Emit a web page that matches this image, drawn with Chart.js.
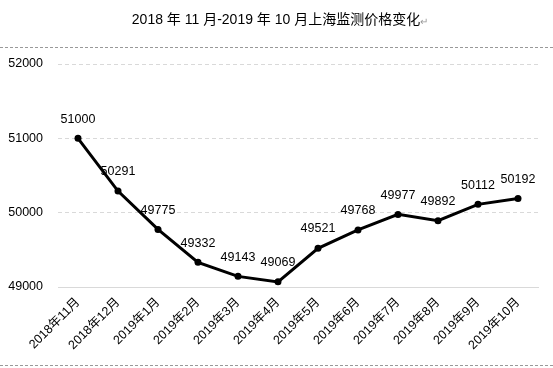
<!DOCTYPE html>
<html lang="zh">
<head>
<meta charset="UTF-8">
<title>上海监测价格变化</title>
<script src="https://cdn.jsdelivr.net/npm/chart.js"></script>
<style>
  html, body { margin: 0; padding: 0; background: #fff; }
  #wrap { width: 553px; height: 368px; }
</style>
</head>
<body>
<div id="wrap"><canvas id="price_chart" width="553" height="368"></canvas></div>
<script>
  // data
  const months = ['2018年11月', '2018年12月', '2019年1月', '2019年2月', '2019年3月', '2019年4月',
                  '2019年5月', '2019年6月', '2019年7月', '2019年8月', '2019年9月', '2019年10月'];
  const prices = [51000, 50291, 49775, 49332, 49143, 49069, 49521, 49768, 49977, 49892, 50112, 50192];
  const yTicks = [49000, 50000, 51000, 52000];
  const chartTitle = '2018 年 11 月-2019 年 10 月上海监测价格变化';

  const FONT = '"Liberation Sans", "Noto Sans CJK SC", sans-serif';

  // title, return mark and the two dashed separator lines
  const framePlugin = {
    id: 'frame',
    afterDraw(chart) {
      const ctx = chart.ctx;
      ctx.save();
      ctx.font = '14px ' + FONT;
      ctx.fillStyle = '#000';
      ctx.textBaseline = 'middle';
      const w = ctx.measureText(chartTitle).width;
      const x0 = 276 - w / 2;
      ctx.textAlign = 'left';
      ctx.fillText(chartTitle, x0, 20);
      ctx.fillStyle = '#999';
      ctx.font = '10px ' + FONT;
      ctx.fillText('↵', x0 + w, 22);

      ctx.strokeStyle = '#999';
      ctx.lineWidth = 1;
      ctx.setLineDash([3, 2]);
      ctx.beginPath();
      ctx.moveTo(0, 47.5); ctx.lineTo(553, 47.5);
      ctx.moveTo(0, 365.5); ctx.lineTo(553, 365.5);
      ctx.stroke();
      ctx.restore();
    }
  };

  // value labels above every point
  const valueLabels = {
    id: 'valueLabels',
    afterDatasetsDraw(chart) {
      const ctx = chart.ctx;
      const meta = chart.getDatasetMeta(0);
      ctx.save();
      ctx.font = '12.5px ' + FONT;
      ctx.fillStyle = '#000';
      ctx.textAlign = 'center';
      ctx.textBaseline = 'bottom';
      meta.data.forEach(function (pt, i) {
        ctx.fillText(String(chart.data.datasets[0].data[i]), pt.x, pt.y - 13);
      });
      ctx.restore();
    }
  };

  new Chart(document.getElementById('price_chart'), {
    type: 'line',
    data: {
      labels: months,
      datasets: [{
        label: '价格',
        data: prices,
        borderColor: '#000',
        backgroundColor: '#000',
        borderWidth: 3,
        pointRadius: 3.5,
        pointHoverRadius: 3.5,
        pointBackgroundColor: '#000',
        pointBorderWidth: 0,
        tension: 0
      }]
    },
    options: {
      responsive: false,
      animation: false,
      layout: { padding: { top: 64, right: 15, bottom: 8, left: 0 } },
      plugins: {
        legend: { display: false },
        title: { display: false },
        tooltip: { enabled: false }
      },
      scales: {
        x: {
          offset: true,
          grid: { display: false, drawTicks: false },
          border: { display: true, color: '#d9d9d9', width: 1 },
          ticks: {
            color: '#000',
            font: { size: 12.5, family: FONT },
            maxRotation: 45,
            minRotation: 45,
            padding: 8,
            autoSkip: false
          },
          afterFit(scale) { scale.height = 73; }
        },
        y: {
          min: yTicks[0],
          max: yTicks[yTicks.length - 1],
          afterBuildTicks(scale) { scale.ticks = yTicks.map(v => ({ value: v })); },
          grid: { color: '#d9d9d9', drawTicks: false, lineWidth: 1 },
          border: {
            display: false,
            dash: ctx => (ctx.tick && ctx.tick.value === yTicks[0]) ? [] : [4, 3]
          },
          ticks: {
            color: '#000',
            font: { size: 12.5, family: FONT },
            padding: 15,
            callback: v => String(v)
          },
          afterFit(scale) { scale.width = 58; }
        }
      }
    },
    plugins: [framePlugin, valueLabels]
  });
</script>
</body>
</html>
